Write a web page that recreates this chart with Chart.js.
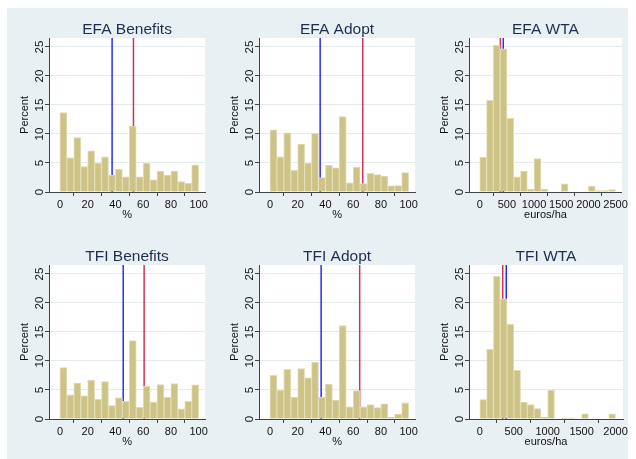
<!DOCTYPE html>
<html>
<head>
<meta charset="utf-8">
<script src="https://cdn.jsdelivr.net/npm/chart.js@4/dist/chart.umd.min.js"></script>
<style>
  html, body { margin: 0; padding: 0; background: #ffffff; }
  #wrap { position: relative; width: 636px; height: 459px; overflow: hidden; }
  #bg { position: absolute; left: 7px; top: 8px; width: 621px; height: 451px; background: #e9f0f3; }
  canvas { position: absolute; }
</style>
</head>
<body>
<div id="wrap">
  <div id="bg"></div>
  <canvas id="c1" width="210" height="227" style="left:0px;top:0px"></canvas>
  <canvas id="c2" width="210" height="227" style="left:210px;top:0px"></canvas>
  <canvas id="c3" width="210" height="227" style="left:420px;top:0px"></canvas>
  <canvas id="c4" width="210" height="227" style="left:0px;top:227px"></canvas>
  <canvas id="c5" width="210" height="227" style="left:210px;top:227px"></canvas>
  <canvas id="c6" width="210" height="227" style="left:420px;top:227px"></canvas>
</div>
<script>
// percent per bin (20 bins each)
const efaBenefits = [13.7, 5.9, 9.4, 4.4, 7.1, 5.0, 6.05, 2.9, 3.9, 2.6, 11.35, 2.6, 5.0, 2.1, 3.6, 2.9, 3.6, 1.8, 1.5, 4.7];
const efaAdopt    = [10.7, 6.05, 10.2, 3.75, 8.25, 5.0, 10.1, 2.5, 4.6, 4.15, 13.0, 1.6, 4.3, 1.45, 3.2, 3.0, 2.75, 1.05, 1.1, 3.35];
const efaWta      = [6.0, 15.8, 25.3, 24.7, 12.7, 2.6, 3.6, 0.5, 5.75, 0.5, 0, 0, 1.4, 0, 0, 0, 1.0, 0.25, 0.25, 0.4];
const tfiBenefits = [8.85, 4.15, 6.2, 4.0, 6.7, 3.4, 6.45, 2.3, 3.65, 3.05, 13.5, 2.0, 5.65, 2.9, 5.95, 3.75, 6.1, 1.75, 3.05, 5.9];
const tfiAdopt    = [7.55, 4.95, 8.55, 3.8, 8.7, 7.1, 9.8, 3.8, 6.0, 3.25, 16.1, 2.08, 4.9, 2.1, 2.5, 1.95, 2.6, 0.35, 0.85, 2.8];
const tfiWta      = [3.35, 12.0, 24.6, 20.7, 16.3, 8.4, 2.9, 2.5, 1.8, 0.35, 5.0, 0, 0.17, 0.17, 0, 0.9, 0, 0, 0, 0.9];

// vertical reference lines [blue, red]
const efaBenefitsLines = [37.6, 53.0];
const efaAdoptLines    = [36.2, 66.9];
const efaWtaLines      = [433, 379];
const tfiBenefitsLines = [45.6, 60.7];
const tfiAdoptLines    = [36.9, 64.7];
const tfiWtaLines      = [389, 337];

const yTicks = [0, 5, 10, 15, 20, 25];
const pctTicks = [0, 20, 40, 60, 80, 100];
const efaWtaTicks = [0, 500, 1000, 1500, 2000, 2500];
const tfiWtaTicks = [0, 500, 1000, 1500, 2000];

const FONT = "'Liberation Sans', Arial, sans-serif";
const Y_MAX = 26.55;

// white plot region, panel title and rotated y-axis text
const panelPlugin = {
    id: 'panel',
    beforeDraw(chart, args, opts) {
        const a = chart.chartArea;
        const ctx = chart.ctx;
        ctx.save();
        ctx.fillStyle = '#ffffff';
        ctx.fillRect(a.left, a.top, a.right - a.left, a.bottom - a.top);
        ctx.restore();
    },
    afterDraw(chart, args, opts) {
        const a = chart.chartArea;
        const ctx = chart.ctx;
        const yScale = chart.scales.y;
        ctx.save();
        ctx.fillStyle = '#1f2d4d';
        ctx.font = '15.5px ' + FONT;
        ctx.textAlign = 'center';
        ctx.textBaseline = 'alphabetic';
        ctx.fillText(opts.title, (a.left + a.right) / 2, 33.5);

        ctx.fillStyle = '#111111';
        ctx.font = '11.5px ' + FONT;
        ctx.textBaseline = 'middle';
        yTicks.forEach(v => {
            const y = yScale.getPixelForValue(v);
            ctx.save();
            ctx.translate(a.left - 9, y);
            ctx.rotate(-Math.PI / 2);
            ctx.fillText(String(v), 0, 0);
            ctx.restore();
        });

        ctx.font = '11px ' + FONT;
        ctx.translate(25, (a.top + a.bottom) / 2);
        ctx.rotate(-Math.PI / 2);
        ctx.fillText('Percent', 0, 0);
        ctx.restore();
    }
};

function makePanel(id, title, values, binWidth, lines, xTicks, xMin, xMax, xTitle) {
    const bars = values.map((v, i) => ({ x: i * binWidth + binWidth / 2, y: v }));
    const lineSet = (x, color) => ({
        type: 'line',
        data: [{ x: x, y: 0 }, { x: x, y: Y_MAX }],
        borderColor: color,
        borderWidth: 1.5,
        pointRadius: 0,
        fill: false,
        order: 2
    });
    new Chart(document.getElementById(id).getContext('2d'), {
        type: 'bar',
        data: {
            datasets: [
                {
                    data: bars,
                    backgroundColor: '#cdc387',
                    borderColor: '#e2dcb2',
                    borderWidth: 1,
                    barPercentage: 1,
                    categoryPercentage: 1,
                    order: 1
                },
                lineSet(lines[0], '#2b2bff'),
                lineSet(lines[1], '#cc3358')
            ]
        },
        options: {
            responsive: false,
            animation: false,
            devicePixelRatio: 1,
            layout: { padding: { left: 0, right: 4.5, top: 38, bottom: 0 } },
            plugins: {
                legend: { display: false },
                tooltip: { enabled: false },
                panel: { title: title }
            },
            scales: {
                x: {
                    type: 'linear',
                    min: xMin,
                    max: xMax,
                    offset: false,
                    afterBuildTicks: s => { s.ticks = xTicks.map(v => ({ value: v })); },
                    afterFit: s => { s.height = 35; },
                    grid: { drawOnChartArea: false, drawTicks: true, tickLength: 4, tickColor: '#444444' },
                    border: { display: true, color: '#444444', width: 1 },
                    ticks: {
                        autoSkip: false, maxRotation: 0, minRotation: 0, padding: 2,
                        color: '#111111', font: { family: FONT, size: 11 },
                        callback: v => String(v)
                    },
                    title: {
                        display: true, text: xTitle, color: '#111111',
                        font: { family: FONT, size: 11 }, padding: { top: 0, bottom: 5 }
                    }
                },
                y: {
                    min: 0,
                    max: Y_MAX,
                    afterBuildTicks: s => { s.ticks = yTicks.map(v => ({ value: v })); },
                    afterFit: s => { s.width = 49; },
                    grid: { color: '#e3ebee', drawTicks: true, tickLength: 4, tickColor: '#444444' },
                    border: { display: true, color: '#444444', width: 1 },
                    ticks: { display: false }
                }
            }
        },
        plugins: [panelPlugin]
    });
}

makePanel('c1', 'EFA Benefits', efaBenefits, 5, efaBenefitsLines, pctTicks, -7.9, 104.7, '%');
makePanel('c2', 'EFA Adopt', efaAdopt, 5, efaAdoptLines, pctTicks, -7.9, 104.7, '%');
makePanel('c3', 'EFA WTA', efaWta, 125, efaWtaLines, efaWtaTicks, -198, 2617, 'euros/ha');
makePanel('c4', 'TFI Benefits', tfiBenefits, 5, tfiBenefitsLines, pctTicks, -7.9, 104.7, '%');
makePanel('c5', 'TFI Adopt', tfiAdopt, 5, tfiAdoptLines, pctTicks, -7.9, 104.7, '%');
makePanel('c6', 'TFI WTA', tfiWta, 100, tfiWtaLines, tfiWtaTicks, -160, 2110, 'euros/ha');
</script>
</body>
</html>
